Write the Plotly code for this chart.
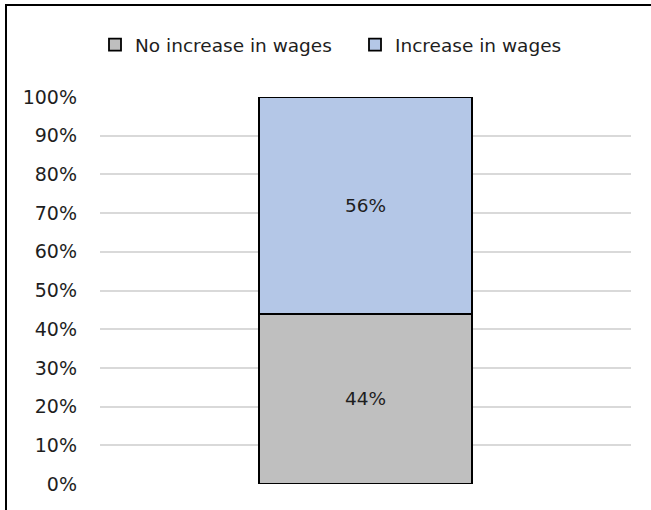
import plotly.graph_objects as go

categories = ["All"]
series_names = ["No increase in wages", "Increase in wages"]
no_increase = [44]
increase = [56]
colors = ["#bfbfbf", "#b4c7e7"]
tick_vals = [0, 10, 20, 30, 40, 50, 60, 70, 80, 90, 100]
tick_text = [f"{v}%" for v in tick_vals]

W, H = 651, 510
L, R, T, B = 100, 20, 97, 26
pw, ph = W - L - R, H - T - B
FONT = "DejaVu Sans"
TXT = "#1e1e1e"

fig = go.Figure()
for name, vals, col in zip(series_names, [no_increase, increase], colors):
    fig.add_trace(go.Bar(
        x=categories, y=vals, name=name, width=0.4,
        marker=dict(color=col, line=dict(color="#000000", width=1.8)),
        text=[f"{v}%" for v in vals], textposition="inside",
        insidetextanchor="middle",
        textfont=dict(size=18.5, color=TXT, family=FONT),
    ))

fig.update_layout(
    barmode="stack",
    width=W, height=H,
    margin=dict(l=L, r=R, t=T, b=B),
    paper_bgcolor="white", plot_bgcolor="white",
    font=dict(family=FONT, size=18.5, color=TXT),
    showlegend=True,
    legend=dict(orientation="h", x=(95 - L) / pw, xanchor="left",
                y=(H - B - 45) / ph, yanchor="middle",
                font=dict(size=18.5, color=TXT),
                traceorder="normal", itemwidth=30, tracegroupgap=0,
                entrywidth=215, entrywidthmode="pixels"),
    xaxis=dict(showticklabels=False, showgrid=False, zeroline=False,
               range=[-0.5, 0.5], fixedrange=True),
    yaxis=dict(range=[0, 100], tickvals=tick_vals, ticktext=tick_text,
               showgrid=True, gridcolor="#d9d9d9", gridwidth=1.5,
               zeroline=False, ticks="", ticklabelstandoff=22,
               tickfont=dict(size=19, color=TXT)),
    uniformtext=dict(minsize=18, mode="show"),
)

# outer frame of the chart
fig.add_shape(type="rect", xref="paper", yref="paper",
              x0=(6 - L) / pw, x1=(W + 10 - L) / pw,
              y0=(H - B - (H + 10)) / ph, y1=(H - B - 5) / ph,
              line=dict(color="#000000", width=2), fillcolor="rgba(0,0,0,0)",
              layer="above")

fig.write_html("out.html", config={"displayModeBar": False},
               post_script="document.body.style.margin='0';document.body.style.overflow='hidden';")
